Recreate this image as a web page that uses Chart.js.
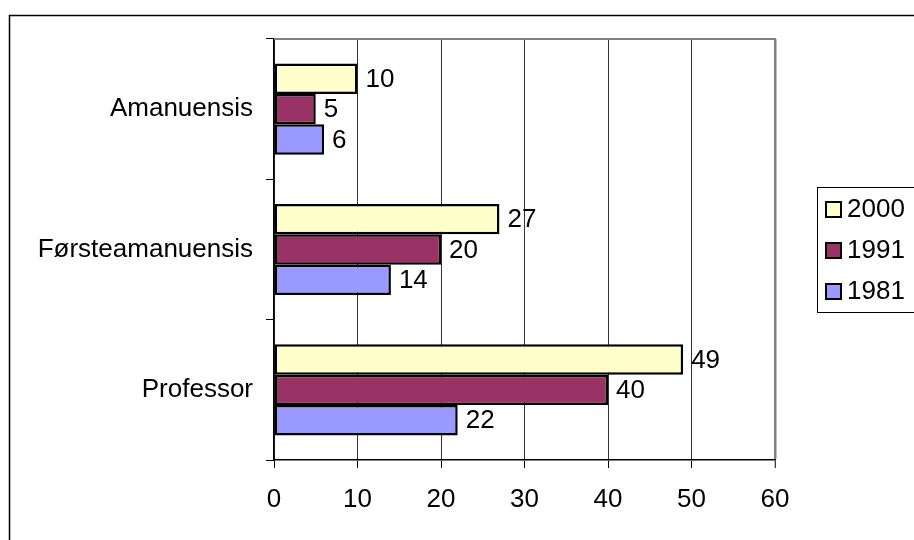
<!DOCTYPE html>
<html>
<head>
<meta charset="utf-8">
<script src="https://cdn.jsdelivr.net/npm/chart.js@4/dist/chart.umd.min.js"></script>
<style>
  html, body { margin: 0; padding: 0; background: #fff; }
  #wrap { width: 914px; height: 540px; position: relative; }
</style>
</head>
<body>
<div id="wrap"><canvas id="c" width="914" height="540"></canvas></div>
<script>
// Stillinger (kategorier) og antall per år
const categories = ['Amanuensis', 'Førsteamanuensis', 'Professor'];
const seriesNames = ['2000', '1991', '1981'];
const values2000 = [10, 27, 49];
const values1991 = [5, 20, 40];
const values1981 = [6, 14, 22];
const xTicks = [0, 10, 20, 30, 40, 50, 60];

const colors = ['#FFFFCC', '#993366', '#9999FF'];
const FONT = '"Liberation Sans", Arial, sans-serif';
const FONT_SIZE = 26;

// Outer frame, plot-area top border
const framePlugin = {
  id: 'frame',
  beforeDraw(chart) {
    const ctx = chart.ctx;
    ctx.save();
    ctx.fillStyle = '#fff';
    ctx.fillRect(0, 0, chart.width, chart.height);
    ctx.strokeStyle = '#000';
    ctx.lineWidth = 1.5;
    ctx.beginPath();
    ctx.moveTo(9.5, chart.height);
    ctx.lineTo(9.5, 15.5);
    ctx.lineTo(chart.width, 15.5);
    ctx.stroke();
    ctx.restore();
  },
  afterDatasetsDraw(chart) {
    const ctx = chart.ctx;
    const a = chart.chartArea;
    ctx.save();
    ctx.strokeStyle = '#808080';
    ctx.lineWidth = 2;
    ctx.beginPath();
    ctx.moveTo(a.left, a.top);
    ctx.lineTo(a.right + 1, a.top);
    ctx.stroke();
    ctx.restore();
  }
};

// Value labels to the right of each bar
const valueLabels = {
  id: 'valueLabels',
  afterDatasetsDraw(chart) {
    const ctx = chart.ctx;
    ctx.save();
    ctx.font = FONT_SIZE + 'px ' + FONT;
    ctx.fillStyle = '#000';
    ctx.textAlign = 'left';
    ctx.textBaseline = 'middle';
    chart.data.datasets.forEach((ds, di) => {
      chart.getDatasetMeta(di).data.forEach((bar, i) => {
        ctx.fillText(String(ds.data[i]), bar.x + 8, bar.y + 1);
      });
    });
    ctx.restore();
  }
};

// Boxed legend on the right
const boxLegend = {
  id: 'boxLegend',
  afterDraw(chart) {
    const ctx = chart.ctx;
    const bx = 817.5, by = 187.5, bw = 120, bh = 125;
    ctx.save();
    ctx.fillStyle = '#fff';
    ctx.fillRect(bx, by, bw, bh);
    ctx.strokeStyle = '#000';
    ctx.lineWidth = 1;
    ctx.strokeRect(bx, by, bw, bh);
    ctx.font = FONT_SIZE + 'px ' + FONT;
    ctx.textBaseline = 'middle';
    ctx.textAlign = 'left';
    chart.data.datasets.forEach((ds, i) => {
      const cy = 209 + i * 41;
      ctx.fillStyle = ds.backgroundColor;
      ctx.fillRect(826, cy - 7, 15, 15);
      ctx.strokeStyle = '#000';
      ctx.lineWidth = 2;
      ctx.strokeRect(826, cy - 7, 15, 15);
      ctx.fillStyle = '#000';
      ctx.fillText(ds.label, 847, cy + 1);
    });
    ctx.restore();
  }
};

new Chart(document.getElementById('c'), {
  type: 'bar',
  data: {
    labels: categories,
    datasets: [
      { label: seriesNames[0], data: values2000, backgroundColor: colors[0] },
      { label: seriesNames[1], data: values1991, backgroundColor: colors[1] },
      { label: seriesNames[2], data: values1981, backgroundColor: colors[2] }
    ].map(d => Object.assign(d, {
      borderColor: '#000',
      borderWidth: 2.5,
      borderSkipped: false,
      categoryPercentage: 0.65,
      barPercentage: 1
    }))
  },
  options: {
    indexAxis: 'y',
    responsive: false,
    animation: false,
    devicePixelRatio: 1,
    layout: { padding: { left: 0, top: 39, right: 139, bottom: 0 } },
    plugins: {
      legend: { display: false },
      tooltip: { enabled: false }
    },
    scales: {
      x: {
        min: xTicks[0],
        max: xTicks[xTicks.length - 1],
        afterBuildTicks(scale) { scale.ticks = xTicks.map(v => ({ value: v })); },
        afterFit(scale) { scale.height = 80; },
        ticks: {
          color: '#000',
          font: { family: FONT, size: FONT_SIZE },
          padding: 16,
          maxRotation: 0
        },
        grid: {
          color: ctx => (ctx.tick && ctx.tick.value === 60) ? '#808080' : '#333',
          lineWidth: ctx => (ctx.tick && ctx.tick.value === 60) ? 2.5 : 1,
          tickColor: '#000',
          tickWidth: 1,
          tickLength: 8
        },
        border: { display: true, color: '#000', width: 1.5 }
      },
      y: {
        afterFit(scale) { scale.width = 274; },
        ticks: {
          color: '#000',
          font: { family: FONT, size: FONT_SIZE },
          padding: 13
        },
        grid: {
          offset: true,
          drawOnChartArea: false,
          tickColor: '#000',
          tickLength: 8,
          tickWidth: 1
        },
        border: { display: true, color: '#000', width: 1.5 }
      }
    }
  },
  plugins: [framePlugin, valueLabels, boxLegend]
});
</script>
</body>
</html>
